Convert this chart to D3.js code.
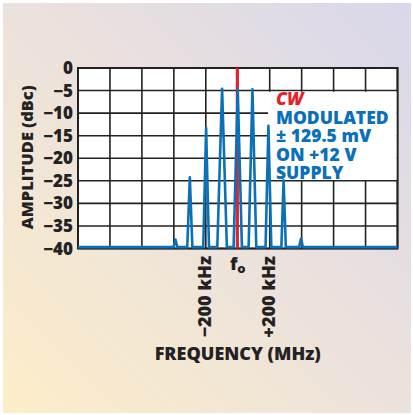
<!DOCTYPE html>
<html>
<head>
<meta charset="utf-8">
<script src="https://cdn.jsdelivr.net/npm/d3@7"></script>
<style>
  html, body { margin: 0; padding: 0; background: #fff; }
  text { font-family: "Open Sans", "DejaVu Sans", sans-serif; font-weight: 800; }
</style>
</head>
<body>
<div id="chart"></div>
<script>
// spectrum trace, frequency offset from fo in kHz, amplitude in dBc
const traceFreq = [-1000, -402, -390, -378, -316, -300, -284, -216, -198, -180, -128, -98, -68, -26, 0, 26, 68, 92, 116, 174, 192, 210, 273, 287, 301, 384, 396, 408, 1000];
const traceAmp  = [-39.7, -39.7, -38.0, -39.7, -39.7, -24.2, -39.7, -39.7, -13.3, -39.7, -39.7, -4.6, -39.7, -39.7, -4.7, -39.7, -39.7, -4.7, -39.7, -39.7, -12.8, -39.7, -39.7, -24.9, -39.7, -39.7, -37.8, -39.7, -39.7];

// CW carrier
const cwFreq = [-3, -3];
const cwAmp = [0, -40];

const yTicks = [0, -5, -10, -15, -20, -25, -30, -35, -40];
const xGrid = [-1000, -800, -600, -400, -200, 0, 200, 400, 600, 800, 1000];
const xLabels = [{ f: -200, t: "\u2212200 kHz" }, { f: 200, t: "+200 kHz" }];
const legendLines = ["MODULATED", "\u00b1 129.5 mV", "ON +12 V", "SUPPLY"];

const width = 413, height = 415;
const pLeft = 78, pRight = 397.5, pTop = 68, pBottom = 248.5;

const svg = d3.select("#chart").append("svg")
  .attr("width", width)
  .attr("height", height);

const defs = svg.append("defs");
const grad = defs.append("linearGradient")
  .attr("id", "bg")
  .attr("x1", "0%").attr("y1", "100%")
  .attr("x2", "100%").attr("y2", "0%");
grad.append("stop").attr("offset", "0%").attr("stop-color", "#fdedc8");
grad.append("stop").attr("offset", "50%").attr("stop-color", "#ece2dc");
grad.append("stop").attr("offset", "100%").attr("stop-color", "#d9d7ea");

svg.append("rect")
  .attr("x", 3).attr("y", 3)
  .attr("width", 408).attr("height", 410)
  .attr("fill", "url(#bg)");

const x = d3.scaleLinear().domain([-1000, 1000]).range([pLeft, pRight]);
const y = d3.scaleLinear().domain([0, -40]).range([pTop, pBottom]);

// plot area
svg.append("rect")
  .attr("x", pLeft).attr("y", pTop)
  .attr("width", pRight - pLeft).attr("height", pBottom - pTop)
  .attr("fill", "#fff");

// grid
svg.append("g")
  .selectAll("line")
  .data(yTicks)
  .join("line")
  .attr("x1", pLeft).attr("x2", pRight)
  .attr("y1", d => y(d)).attr("y2", d => y(d))
  .attr("stroke", "#222").attr("stroke-width", 1.6);

svg.append("g")
  .selectAll("line")
  .data(xGrid)
  .join("line")
  .attr("x1", d => x(d)).attr("x2", d => x(d))
  .attr("y1", pTop).attr("y2", pBottom)
  .attr("stroke", "#222").attr("stroke-width", 1.6);

svg.append("rect")
  .attr("x", pLeft).attr("y", pTop)
  .attr("width", pRight - pLeft).attr("height", pBottom - pTop)
  .attr("fill", "none")
  .attr("stroke", "#222").attr("stroke-width", 2);

// legend box
svg.append("rect")
  .attr("x", 268).attr("y", y(-5) + 1.2)
  .attr("width", pRight - 268 - 1).attr("height", y(-25) - y(-5) - 2)
  .attr("fill", "#fff");

const line = d3.line()
  .x(d => x(d[0]))
  .y(d => y(d[1]));

svg.append("path")
  .datum(d3.zip(cwFreq, cwAmp))
  .attr("d", line)
  .attr("fill", "none")
  .attr("stroke", "#e8202a")
  .attr("stroke-width", 3);

svg.append("path")
  .datum(d3.zip(traceFreq, traceAmp))
  .attr("d", line)
  .attr("fill", "none")
  .attr("stroke", "#0a70b8")
  .attr("stroke-width", 2.6)
  .attr("stroke-linejoin", "round");

// y tick labels
svg.append("g")
  .selectAll("text")
  .data(yTicks)
  .join("text")
  .attr("x", 73)
  .attr("y", d => y(d) + 6)
  .attr("text-anchor", "end")
  .attr("font-size", 17)
  .attr("fill", "#222")
  .text(d => d === 0 ? "0" : "\u2212" + Math.abs(d));

svg.append("text")
  .attr("transform", `translate(33,${(pTop + pBottom) / 2 - 1}) rotate(-90)`)
  .attr("text-anchor", "middle")
  .attr("font-size", 16.5)
  .attr("fill", "#222")
  .text("AMPLITUDE (dBc)");

// x labels
svg.append("g")
  .selectAll("text")
  .data(xLabels)
  .join("text")
  .attr("transform", d => `translate(${x(d.f) + 5},256) rotate(-90)`)
  .attr("text-anchor", "end")
  .attr("font-size", 18)
  .attr("fill", "#222")
  .text(d => d.t);

const fo = svg.append("text")
  .attr("x", x(0))
  .attr("y", 270)
  .attr("text-anchor", "middle")
  .attr("font-size", 18)
  .attr("fill", "#222");
fo.append("tspan").text("f");
fo.append("tspan").attr("font-size", 13).attr("dy", 3).text("o");

svg.append("text")
  .attr("x", x(0))
  .attr("y", 360)
  .attr("text-anchor", "middle")
  .attr("font-size", 18)
  .attr("fill", "#222")
  .text("FREQUENCY (MHz)");

// legend text, one block
const legend = svg.append("text")
  .attr("x", 276).attr("y", 105)
  .attr("font-size", 17.5)
  .attr("fill", "#0a70b8");

legend.append("tspan")
  .attr("x", 276)
  .attr("font-style", "italic")
  .attr("fill", "#e8202a")
  .text("CW");

legend.selectAll("tspan.l")
  .data(legendLines)
  .join("tspan")
  .attr("class", "l")
  .attr("x", 276)
  .attr("dy", 18.5)
  .text(d => d);
</script>
</body>
</html>
